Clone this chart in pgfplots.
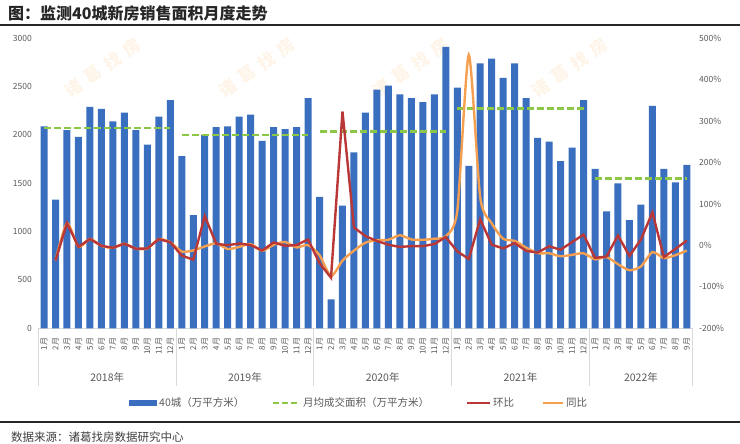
\documentclass[border=0pt]{standalone}
\usepackage{fontspec}
\setmainfont{Noto Sans CJK SC}
\usepackage{pgfplots}
\usepackage{pgfplotstable}
\pgfplotsset{compat=1.18}
\definecolor{barblue}{RGB}{58,110,190}
\definecolor{avggreen}{RGB}{140,200,70}
\definecolor{momred}{RGB}{185,55,55}
\definecolor{yoyorange}{RGB}{245,160,80}
\definecolor{ticktext}{RGB}{89,89,89}
\definecolor{sepgray}{RGB}{217,217,217}
\definecolor{wmark}{RGB}{254,244,232}

\pgfplotstableread{
x v
0 2090
1 1330
2 2050
3 1980
4 2290
5 2270
6 2140
7 2230
8 2050
9 1900
10 2190
11 2360
12 1780
13 1170
14 2000
15 2080
16 2090
17 2190
18 2210
19 1940
20 2080
21 2060
22 2080
23 2380
24 1360
25 300
26 1270
27 1820
28 2230
29 2470
30 2510
31 2420
32 2380
33 2340
34 2420
35 2910
36 2490
37 1680
38 2740
39 2790
40 2590
41 2740
42 2380
43 1970
44 1930
45 1730
46 1870
47 2360
48 1650
49 1210
50 1500
51 1120
52 1280
53 2300
54 1650
55 1510
56 1690
}\bars

\pgfplotstableread{
x v
1 -36.4
2 54.1
3 -3.4
4 15.7
5 -0.9
6 -5.7
7 4.2
8 -8.1
9 -7.3
10 15.3
11 7.8
12 -24.6
13 -34.3
14 70.9
15 4.0
16 0.5
17 4.8
18 0.9
19 -12.2
20 7.2
21 -1.0
22 1.0
23 14.4
24 -42.9
25 -77.9
26 323.3
27 43.3
28 22.5
29 10.8
30 1.6
31 -3.6
32 -1.7
33 -1.7
34 3.4
35 20.2
36 -14.4
37 -32.5
38 63.1
39 1.8
40 -7.2
41 5.8
42 -13.1
43 -17.2
44 -2.0
45 -10.4
46 8.1
47 26.2
48 -30.1
49 -26.7
50 24.0
51 -25.3
52 14.3
53 79.7
54 -28.3
55 -8.5
56 11.9
}\mom

\pgfplotstableread{
x v
1 -36.4
2 54.1
3 -3.4
4 15.7
5 -0.9
6 -5.7
7 4.2
8 -8.1
9 -7.3
10 15.3
11 7.8
12 -14.8
13 -12.0
14 -2.4
15 5.1
16 -8.7
17 -3.5
18 3.3
19 -13.0
20 1.5
21 8.4
22 -5.0
23 0.8
24 -23.6
25 -74.4
26 -36.5
27 -12.5
28 6.7
29 12.8
30 13.6
31 24.7
32 14.4
33 13.6
34 16.3
35 22.3
36 83.1
37 460
38 115.7
39 53.3
40 16.1
41 10.9
42 -5.2
43 -18.6
44 -18.9
45 -26.1
46 -22.7
47 -18.9
48 -33.7
49 -28.0
50 -45.3
51 -59.9
52 -50.6
53 -16.1
54 -30.7
55 -23.4
56 -12.4
}\yoy

\begin{document}
\begin{tikzpicture}
\useasboundingbox (0,0) rectangle (740pt,444pt);
% faint watermarks, one glyph per node along a 35 degree line
\foreach \wx in {103,257,411,570} {
  \foreach \ch [count=\k] in {诸,葛,找,房} {
    \node[rotate=35, text=wmark, inner sep=0pt, font=\fontsize{17}{17}\selectfont\bfseries]
      at ({\wx pt+(\k-2.5)*19.5pt},{376pt+(\k-2.5)*13.6pt}) {\ch};
  }
}
% title
\node[anchor=west, inner sep=0pt, font=\fontsize{16}{17}\selectfont\bfseries, text=black!85] at (8pt,431pt) {图：监测40城新房销售面积月度走势};
\draw[line width=1.5pt, black!85] (0,419pt) -- (740pt,419pt);

\begin{axis}[
  at={(38.3pt,115.7pt)}, anchor=south west,
  scale only axis, width=654.3pt, height=290pt,
  xmin=-0.5, xmax=56.5, ymin=0, ymax=3000,
  axis y line*=left, axis x line*=bottom,
  y axis line style={draw=none},
  x axis line style={draw=sepgray, line width=0.8pt},
  major tick length=0pt,
  ytick={0,500,1000,1500,2000,2500,3000},
  yticklabels={0,500,1000,1500,2000,2500,3000},
  yticklabel style={font=\fontsize{8.5}{9}\selectfont, text=ticktext},
  yticklabel shift=3pt,
  xtick={0,...,56},
  xticklabels={1月,2月,3月,4月,5月,6月,7月,8月,9月,10月,11月,12月,
               1月,2月,3月,4月,5月,6月,7月,8月,9月,10月,11月,12月,
               1月,2月,3月,4月,5月,6月,7月,8月,9月,10月,11月,12月,
               1月,2月,3月,4月,5月,6月,7月,8月,9月,10月,11月,12月,
               1月,2月,3月,4月,5月,6月,7月,8月,9月},
  xticklabel style={rotate=90, anchor=east, font=\fontsize{8}{8}\selectfont, text=ticktext},
  xticklabel shift=6pt,
  clip=false,
]
\addplot[ybar, bar width=7pt, bar shift=0pt, fill=barblue, draw=none] table[x=x,y=v] {\bars};
\addplot[avggreen, line width=2.2pt, dash pattern=on 7pt off 3pt] coordinates {(0,2073) (11,2073)};
\addplot[avggreen, line width=2.2pt, dash pattern=on 7pt off 3pt] coordinates {(12,2003) (23,2003)};
\addplot[avggreen, line width=2.2pt, dash pattern=on 7pt off 3pt] coordinates {(24,2036) (35,2036)};
\addplot[avggreen, line width=2.2pt, dash pattern=on 7pt off 3pt] coordinates {(36,2273) (47,2273)};
\addplot[avggreen, line width=2.2pt, dash pattern=on 7pt off 3pt] coordinates {(48,1550) (56,1550)};
% year separators and labels
\pgfplotsinvokeforeach{-0.5,11.5,23.5,35.5,47.5,56.5}{
  \draw[sepgray, line width=0.8pt] (axis cs:#1,0) -- ([yshift=-58pt]axis cs:#1,0);
}
\node[font=\fontsize{10.5}{11}\selectfont, text=ticktext] at ([yshift=-49pt]axis cs:5.5,0) {2018年};
\node[font=\fontsize{10.5}{11}\selectfont, text=ticktext] at ([yshift=-49pt]axis cs:17.5,0) {2019年};
\node[font=\fontsize{10.5}{11}\selectfont, text=ticktext] at ([yshift=-49pt]axis cs:29.5,0) {2020年};
\node[font=\fontsize{10.5}{11}\selectfont, text=ticktext] at ([yshift=-49pt]axis cs:41.5,0) {2021年};
\node[font=\fontsize{10.5}{11}\selectfont, text=ticktext] at ([yshift=-49pt]axis cs:52,0) {2022年};
\end{axis}

\begin{axis}[
  at={(38.3pt,115.7pt)}, anchor=south west,
  scale only axis, width=654.3pt, height=290pt,
  xmin=-0.5, xmax=56.5, ymin=-200, ymax=500,
  axis y line*=right, axis x line=none,
  y axis line style={draw=none},
  major tick length=0pt,
  ytick={-200,-100,0,100,200,300,400,500},
  yticklabels={-200\%,-100\%,0\%,100\%,200\%,300\%,400\%,500\%},
  yticklabel style={font=\fontsize{8.5}{9}\selectfont, text=ticktext},
  yticklabel shift=3pt,
]
\addplot[yoyorange, line width=2.4pt, smooth, tension=0.4] table[x=x,y=v] {\yoy};
\addplot[momred, line width=2.4pt] table[x=x,y=v] {\mom};
\end{axis}

% legend
\fill[barblue] (129pt,38pt) rectangle (157pt,44pt);
\node[anchor=west, inner sep=1pt, font=\fontsize{10.5}{11}\selectfont, text=ticktext] at (158pt,41pt) {40城（万平方米）};
\draw[avggreen, line width=2pt, dash pattern=on 6pt off 3pt] (273pt,41pt) -- (300pt,41pt);
\node[anchor=west, inner sep=1pt, font=\fontsize{10.5}{11}\selectfont, text=ticktext] at (302pt,41pt) {月均成交面积（万平方米）};
\draw[momred, line width=2.2pt] (467pt,41pt) -- (490pt,41pt);
\node[anchor=west, inner sep=1pt, font=\fontsize{10.5}{11}\selectfont, text=ticktext] at (492pt,41pt) {环比};
\draw[yoyorange, line width=2.2pt] (543pt,41pt) -- (563pt,41pt);
\node[anchor=west, inner sep=1pt, font=\fontsize{10.5}{11}\selectfont, text=ticktext] at (565pt,41pt) {同比};

\draw[line width=1.2pt, black!85] (0,22pt) -- (740pt,22pt);
\node[anchor=west, inner sep=0pt, font=\fontsize{11.5}{12}\selectfont, text=black!75] at (11pt,6.5pt) {数据来源：诸葛找房数据研究中心};
\end{tikzpicture}
\end{document}
